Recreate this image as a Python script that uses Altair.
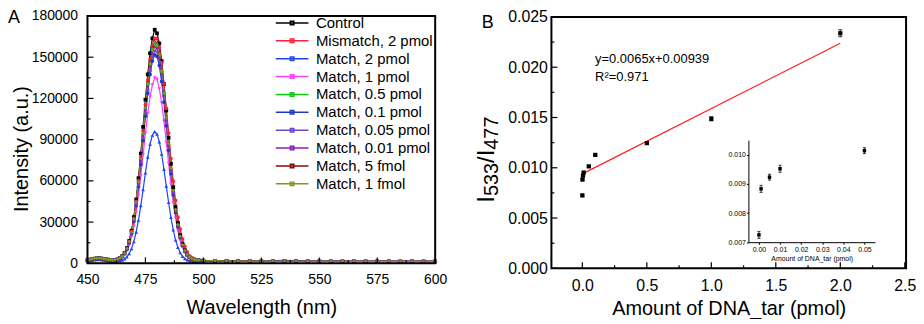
import altair as alt
import pandas as pd

FONT = "Liberation Sans"

# ---------------- Panel A: emission spectra ----------------
wavelength = list(range(450, 499)) + list(range(500, 601, 5))

control = [2300, 2700, 3100, 3400, 3600, 3700, 3500, 3300, 3000, 2700, 2500, 2400, 2500,
           3000, 3900, 5300, 7600, 11100, 16300, 23700, 33700, 46400, 62000, 79900, 99300,
           119100, 137500, 152900, 163700, 170000, 167400, 160000, 147200, 130400, 111200,
           91400, 72500, 55400, 41000, 29400, 20500, 14000, 9500, 6500, 4600, 3500, 2800, 2400, 2200,
           2000, 1800, 1700, 1600, 1600, 1500, 1500, 1600, 1500, 1500, 1500, 1400, 1500, 1500,
           1400, 1500, 1400, 1400, 1500, 1400, 1400]
mismatch_2p = [2400, 2800, 3200, 3500, 3700, 3700, 3600, 3300, 3000, 2800, 2600, 2500, 2600,
               3000, 3800, 5200, 7400, 10800, 15900, 23100, 32700, 45100, 60200, 77500, 96400,
               115500, 133400, 148300, 158800, 163700, 163500, 157200, 145800, 130500, 112900,
               94800, 76300, 59800, 45800, 33600, 24900, 17700, 12300, 8400, 5500, 3900, 3000, 2500, 2200,
               2100, 1900, 1700, 1700, 1600, 1600, 1500, 1500, 1600, 1500, 1500, 1500, 1500, 1500,
               1400, 1500, 1500, 1400, 1400, 1500, 1400]
match_2p = [1600, 1900, 2200, 2500, 2700, 2800, 2600, 2300, 1900, 1600, 1400, 1300, 1400,
            1600, 1800, 2400, 3200, 4700, 7100, 10700, 15800, 22700, 31500, 42000, 53700,
            65900, 77300, 86800, 93200, 95800, 94100, 88400, 79400, 68300, 56200,
            44300, 33500, 24300, 17000, 11600, 7700, 5100, 3500, 2500, 1900, 1600, 1500, 1400, 1300,
            1300, 1400, 1500, 1600, 1800, 1900, 2000, 2100, 2000, 1900, 1700, 1500, 1400, 1300,
            1300, 1200, 1200, 1300, 1200, 1200, 1200]
match_1p = [2200, 2600, 3000, 3300, 3500, 3500, 3400, 3200, 2900, 2600, 2400, 2300, 2400,
            2800, 3500, 4600, 6400, 9200, 13300, 19200, 27000, 37100, 49400, 63600, 78900,
            94500, 109100, 121200, 129800, 135000, 134000, 126900, 116700, 103500, 88300,
            72700, 57700, 44200, 32800, 23600, 16600, 11500, 7900, 5600, 4100, 3200, 2600, 2300, 2200,
            1900, 1700, 1600, 1600, 1500, 1500, 1500, 1400, 1500, 1500, 1400, 1400, 1500, 1400,
            1400, 1400, 1500, 1400, 1400, 1300, 1400]
match_05p = [2300, 2700, 3100, 3400, 3600, 3600, 3500, 3200, 2900, 2700, 2500, 2400, 2500,
             3000, 3800, 5100, 7300, 10600, 15600, 22600, 32000, 44000, 58700, 75700, 94100,
             112700, 130200, 144700, 154900, 159700, 158500, 151500, 139400, 123400, 105300,
             86600, 68700, 52500, 38900, 27900, 19500, 13400, 9100, 6300, 4500, 3400, 2700, 2400, 2200,
             2000, 1800, 1700, 1600, 1600, 1500, 1500, 1500, 1500, 1500, 1400, 1500, 1500, 1400,
             1400, 1500, 1400, 1400, 1400, 1400, 1400]
match_01p = [2200, 2600, 3000, 3300, 3500, 3600, 3400, 3200, 2900, 2600, 2400, 2300, 2400,
             2900, 3700, 4900, 7000, 10200, 14900, 21500, 30400, 41900, 55900, 71900, 89400,
             107100, 123700, 137500, 147200, 151700, 150600, 143900, 132400, 117300, 100100,
             82300, 65300, 50000, 37000, 26600, 18600, 12800, 8800, 6100, 4400, 3300, 2700, 2400, 2200,
             1900, 1800, 1700, 1600, 1500, 1500, 1500, 1500, 1400, 1500, 1400, 1400, 1400, 1500,
             1400, 1400, 1400, 1300, 1400, 1400, 1300]
match_005p = [2300, 2700, 3100, 3400, 3600, 3600, 3500, 3300, 2900, 2700, 2500, 2400, 2500,
              2900, 3700, 5000, 7100, 10400, 15100, 21900, 31000, 42700, 56900, 73300, 91200,
              109200, 126100, 140200, 150100, 154700, 153600, 146700, 135000, 119600, 102100,
              83900, 66600, 50900, 37700, 27100, 18900, 13000, 8900, 6100, 4400, 3300, 2700, 2400, 2200,
              2000, 1800, 1700, 1600, 1600, 1500, 1500, 1500, 1500, 1400, 1500, 1400, 1400, 1400,
              1500, 1400, 1400, 1400, 1400, 1300, 1400]
match_001p = [2300, 2700, 3100, 3400, 3600, 3700, 3500, 3300, 3000, 2700, 2500, 2400, 2500,
              3000, 3700, 5100, 7200, 10500, 15400, 22300, 31600, 43500, 58000, 74700, 92900,
              111300, 128500, 142900, 153000, 157700, 156500, 149600, 137600, 121900, 104000,
              85500, 67800, 51900, 38400, 27600, 19300, 13200, 9000, 6200, 4400, 3400, 2700, 2400, 2200,
              2000, 1800, 1700, 1600, 1600, 1500, 1500, 1500, 1500, 1500, 1400, 1500, 1400, 1400,
              1400, 1400, 1500, 1400, 1400, 1400, 1400]
match_5f = [2400, 2800, 3200, 3500, 3700, 3700, 3600, 3300, 3000, 2800, 2600, 2500, 2600,
            3000, 3800, 5100, 7300, 10700, 15700, 22800, 32300, 44600, 59400, 76600, 95200,
            114100, 131800, 146500, 156900, 161700, 160500, 153300, 141100, 125000, 106600,
            87700, 69500, 53200, 39300, 28200, 19700, 13500, 9200, 6300, 4500, 3400, 2800, 2400, 2200,
            2000, 1800, 1700, 1700, 1600, 1600, 1500, 1500, 1500, 1500, 1500, 1500, 1400, 1500,
            1400, 1400, 1400, 1500, 1400, 1400, 1400]
match_1f = [2400, 2800, 3200, 3500, 3700, 3700, 3600, 3300, 3000, 2700, 2500, 2400, 2500,
            3000, 3800, 5100, 7300, 10700, 15700, 22700, 32100, 44300, 59100, 76100, 94600,
            113400, 131000, 145600, 155900, 160700, 159500, 152400, 140200, 124200, 106000,
            87100, 69100, 52900, 39100, 28100, 19600, 13400, 9200, 6300, 4500, 3400, 2700, 2400, 2200,
            2000, 1900, 1700, 1600, 1600, 1600, 1500, 1500, 1500, 1500, 1400, 1500, 1500, 1400,
            1400, 1400, 1500, 1400, 1400, 1400, 1400]

series_names = ["Control", "Mismatch, 2 pmol", "Match, 2 pmol", "Match, 1 pmol",
                "Match, 0.5 pmol", "Match, 0.1 pmol", "Match, 0.05 pmol",
                "Match, 0.01 pmol", "Match, 5 fmol", "Match, 1 fmol"]
series_values = [control, mismatch_2p, match_2p, match_1p, match_05p, match_01p,
                 match_005p, match_001p, match_5f, match_1f]
series_colors = ["#000000", "#FF1F3A", "#1F45F5", "#FF3CFF", "#10CC10", "#2038C8",
                 "#6A48C8", "#8A1EC0", "#8B0A0A", "#7A9A1E"]
series_shapes = ["square", "circle", "triangle-up", "triangle-down", "diamond", "circle",
                 "triangle-left", "triangle-right", "triangle-up", "diamond"]

wl_ticks = [450, 475, 500, 525, 550, 575, 600]
wl_minor = [462.5, 487.5, 512.5, 537.5, 562.5, 587.5]
int_ticks = [0, 30000, 60000, 90000, 120000, 150000, 180000]
int_minor = [15000, 45000, 75000, 105000, 135000, 165000]

# ---------------- Panel B: ratio vs amount ----------------
amount = [0, 0.001, 0.005, 0.01, 0.05, 0.1, 0.5, 1.0, 2.0]
ratio = [0.00725, 0.00883, 0.00923, 0.00952, 0.01014, 0.01128, 0.01245, 0.01487, 0.02338]
ratio_err = [0.00012, 0.00012, 0.00010, 0.00012, 0.00010, 0.00010, 0.00010, 0.00020, 0.00035]
fit_amount = [0.0, 2.0]
fit_ratio = [0.00939, 0.02239]

amt_ticks = [0, 0.5, 1.0, 1.5, 2.0, 2.5]
amt_minor = [0.25, 0.75, 1.25, 1.75, 2.25]
ratio_ticks = [0, 0.005, 0.010, 0.015, 0.020, 0.025]
ratio_minor = [0.0025, 0.0075, 0.0125, 0.0175, 0.0225]

inset_amt_ticks = [0, 0.01, 0.02, 0.03, 0.04, 0.05]
inset_ratio_ticks = [0.007, 0.008, 0.009, 0.010]

# ---------------- build tables ----------------
rows = []
for k, (name, vals) in enumerate(zip(series_names, series_values)):
    for w, v in zip(wavelength, vals):
        rows.append({"series": name, "series_p": name, "k": k, "wl": w, "I": v})
spec_df = pd.DataFrame(rows)

lo = [r - e for r, e in zip(ratio, ratio_err)]
hi = [r + e for r, e in zip(ratio, ratio_err)]
b_df = pd.DataFrame({"amount": amount, "ratio": ratio, "lo": lo, "hi": hi})
cap_df = pd.DataFrame({"amount": amount + amount, "ratio": lo + hi})
fit_df = pd.DataFrame({"amount": fit_amount, "ratio": fit_ratio})
in_df = b_df[b_df["amount"] <= 0.05].rename(columns={"amount": "amt_in", "ratio": "rat_in"})
in_cap = cap_df[cap_df["amount"] <= 0.05].rename(columns={"amount": "amt_in", "ratio": "rat_in"})

one = pd.DataFrame({"k": [0]})


def label(text, x, y, size, angle=0, align="left", baseline="alphabetic"):
    return alt.Chart(one).mark_text(
        text=text, fontSize=size, angle=angle, align=align, baseline=baseline,
        color="black", font=FONT
    ).encode(x=alt.value(x), y=alt.value(y))


def frame(x0, x1, y0, y1):
    return alt.Chart(one).mark_rect(fill="transparent", stroke="black", strokeWidth=2).encode(
        x=alt.value(x0), x2=alt.value(x1), y=alt.value(y0), y2=alt.value(y1))


# ================= Panel A =================
WA, HA = 350, 249
a_x_axis = alt.Axis(values=wl_ticks, format="d", title="Wavelength (nm)",
                    labelFontSize=14, titleFontSize=20, labelPadding=9,
                    titleY=50, titleBaseline="alphabetic",
                    labelFlush=False, labelOverlap=False,
                    domain=False, ticks=False, tickSize=0)
a_y_axis = alt.Axis(values=int_ticks, format="d", title=None, labelFontSize=14,
                    labelPadding=10, labelOverlap=False,
                    domain=False, ticks=False, tickSize=0)
a_xs = alt.Scale(domain=[450, 600], nice=False, zero=False)
a_ys = alt.Scale(domain=[0, 180000], nice=False, zero=False)
a_x = alt.X("wl:Q", scale=a_xs, axis=a_x_axis)
a_y = alt.Y("I:Q", scale=a_ys, axis=a_y_axis)

legend_a = alt.Legend(title=None, orient="none", legendX=198, legendY=-1,
                      symbolType="M-2.35,0H2.35M-0.25,-0.25H0.25V0.25H-0.25Z",
                      symbolSize=196, symbolStrokeWidth=1.5, labelFontSize=15,
                      labelOffset=16, rowPadding=2, labelLimit=400, padding=0,
                      labelFont=FONT, labelColor="black")

a_lines = alt.Chart(spec_df).mark_line(strokeWidth=1.2).encode(
    x=a_x, y=a_y,
    color=alt.Color("series:N", scale=alt.Scale(domain=series_names, range=series_colors),
                    legend=legend_a, sort=series_names))
a_points = alt.Chart(spec_df).mark_point(filled=True, size=14, opacity=1).encode(
    x=a_x, y=a_y,
    color=alt.Color("series_p:N", scale=alt.Scale(domain=series_names, range=series_colors),
                    legend=None),
    shape=alt.Shape("series_p:N", scale=alt.Scale(domain=series_names, range=series_shapes),
                    legend=None))

a_ty_major = alt.Chart(pd.DataFrame({"I": int_ticks})).mark_rule(color="black", strokeWidth=1.2).encode(
    y=a_y, x=alt.value(0), x2=alt.value(6))
a_ty_minor = alt.Chart(pd.DataFrame({"I": int_minor})).mark_rule(color="black", strokeWidth=1.2).encode(
    y=a_y, x=alt.value(0), x2=alt.value(3))
a_tx_major = alt.Chart(pd.DataFrame({"wl": wl_ticks})).mark_rule(color="black", strokeWidth=1.2).encode(
    x=a_x, y=alt.value(HA), y2=alt.value(HA - 6))
a_tx_minor = alt.Chart(pd.DataFrame({"wl": wl_minor})).mark_rule(color="black", strokeWidth=1.2).encode(
    x=a_x, y=alt.value(HA), y2=alt.value(HA - 3))

panel_a = alt.layer(
    a_lines, a_points, a_ty_major, a_ty_minor, a_tx_major, a_tx_minor,
    frame(0, WA, 0, HA),
    label("Intensity (a.u.)", -60, 134, 20, angle=270, align="center"),
    label("A", -80, 7, 18),
).resolve_scale(color="independent", shape="independent").properties(width=WA, height=HA)

# ================= Panel B =================
WB, HB = 357, 254
TOPB = 1
b_xs = alt.Scale(domain=[-0.24, 2.51], nice=False, zero=False)
b_ys = alt.Scale(domain=[0, 0.025], range=[HB, TOPB], nice=False, zero=False)
b_x_axis = alt.Axis(values=amt_ticks, format=".1f", title="Amount of DNA_tar (pmol)",
                    labelFontSize=16, titleFontSize=20, labelPadding=9,
                    titleY=46, titleBaseline="alphabetic",
                    labelFlush=False, labelOverlap=False,
                    domain=False, ticks=False, tickSize=0)
b_y_axis = alt.Axis(values=ratio_ticks, format=".3f", title=None, labelFontSize=16,
                    labelPadding=4, labelOverlap=False,
                    domain=False, ticks=False, tickSize=0)
b_x = alt.X("amount:Q", scale=b_xs, axis=b_x_axis)
b_y = alt.Y("ratio:Q", scale=b_ys, axis=b_y_axis)

b_err = alt.Chart(b_df).mark_rule(color="#333333", strokeWidth=1).encode(
    x=b_x, y=alt.Y("lo:Q", scale=b_ys, axis=b_y_axis), y2="hi:Q")
b_caps = alt.Chart(cap_df).mark_point(shape="stroke", size=16, strokeWidth=1, color="#333333",
                                      opacity=1).encode(x=b_x, y=b_y)
b_pts = alt.Chart(b_df).mark_square(size=18, color="black", opacity=1).encode(x=b_x, y=b_y)
b_fit = alt.Chart(fit_df).mark_line(color="#FF2020", strokeWidth=1.3).encode(x=b_x, y=b_y)

b_ty_major = alt.Chart(pd.DataFrame({"ratio": ratio_ticks})).mark_rule(color="black", strokeWidth=1.2).encode(
    y=b_y, x=alt.value(0), x2=alt.value(6))
b_ty_minor = alt.Chart(pd.DataFrame({"ratio": ratio_minor})).mark_rule(color="black", strokeWidth=1.2).encode(
    y=b_y, x=alt.value(0), x2=alt.value(3))
b_tx_major = alt.Chart(pd.DataFrame({"amount": amt_ticks})).mark_rule(color="black", strokeWidth=1.2).encode(
    x=b_x, y=alt.value(HB), y2=alt.value(HB - 6))
b_tx_minor = alt.Chart(pd.DataFrame({"amount": amt_minor})).mark_rule(color="black", strokeWidth=1.2).encode(
    x=b_x, y=alt.value(HB), y2=alt.value(HB - 3))

main_b = alt.layer(
    b_ty_major, b_ty_minor, b_tx_major, b_tx_minor,
    b_fit, b_err, b_caps, b_pts,
    frame(0, WB, TOPB, HB),
    label("y=0.0065x+0.00939", 44, 47, 13),
    label("R\u00b2=0.971", 44, 65, 13),
    label("B", -70, 12, 18),
    label("I", -58, 188, 24, angle=270),
    label("533", -54, 181.3, 20, angle=270),
    label("/I", -58, 147.9, 24, angle=270),
    label("477", -54, 134.6, 20, angle=270),
)

# inset
IN_X0, IN_X1 = 198.3, 325.7
IN_Y0, IN_Y1 = 227.7, 125
i_xs = alt.Scale(domain=[-0.005, 0.055], range=[IN_X0, IN_X1], nice=False, zero=False)
i_ys = alt.Scale(domain=[0.007, 0.0105], range=[IN_Y0, IN_Y1], nice=False, zero=False)
i_x_axis = alt.Axis(orient="bottom", offset=IN_Y0 - HB, values=inset_amt_ticks,
                    format=".2f", title="Amount of DNA_tar (pmol)", labelFontSize=7,
                    titleFontSize=7, labelPadding=1, titlePadding=2, tickSize=2,
                    ticks=True, domain=True, domainColor="black", tickColor="black",
                    domainWidth=1, labelFlush=False, labelOverlap=False)
i_y_axis = alt.Axis(orient="left", offset=-IN_X0, values=inset_ratio_ticks,
                    format=".3f", title=None, labelFontSize=7, labelPadding=1,
                    tickSize=2, ticks=True, domain=True, domainColor="black",
                    tickColor="black", domainWidth=1, labelOverlap=False)
i_x = alt.X("amt_in:Q", scale=i_xs, axis=i_x_axis)
i_y = alt.Y("rat_in:Q", scale=i_ys, axis=i_y_axis)

i_err = alt.Chart(in_df).mark_rule(color="#333333", strokeWidth=1).encode(
    x=i_x, y=alt.Y("lo:Q", scale=i_ys, axis=i_y_axis), y2="hi:Q")
i_caps = alt.Chart(in_cap).mark_point(shape="stroke", size=9, strokeWidth=1, color="#333333",
                                      opacity=1).encode(x=i_x, y=i_y)
i_pts = alt.Chart(in_df).mark_square(size=12, color="black", opacity=1).encode(x=i_x, y=i_y)

inset_b = alt.layer(i_err, i_caps, i_pts)

panel_b = alt.layer(main_b, inset_b).resolve_scale(
    x="independent", y="independent").properties(width=WB, height=HB)

chart = alt.hconcat(panel_a, panel_b, spacing=117, bounds="flush").properties(
    padding=0
).configure_view(strokeWidth=0).configure_axis(
    labelFont=FONT, titleFont=FONT, labelColor="black", titleColor="black",
    titleFontWeight="normal", grid=False
).configure_text(font=FONT)

chart.save("out.html", embed_options={"renderer": "svg", "actions": False})
